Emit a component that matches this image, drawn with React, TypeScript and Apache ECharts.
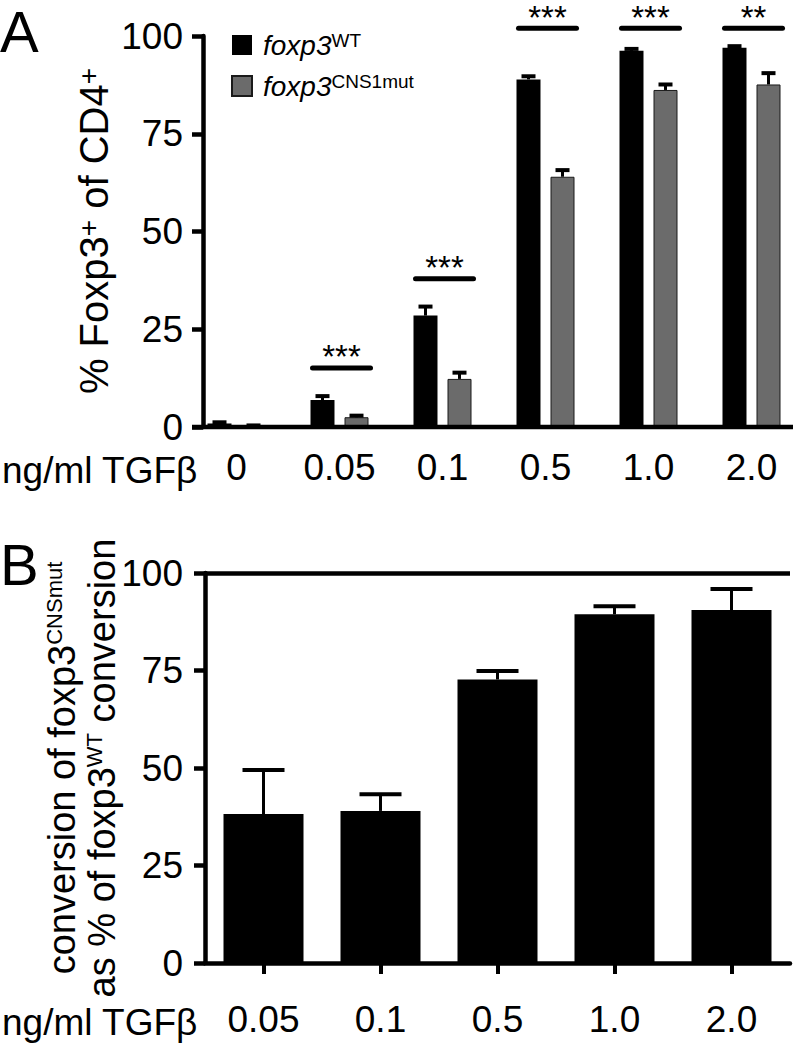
import React, { useEffect, useRef } from "react";
import * as echarts from "echarts";

const FONT = '"Liberation Sans", Arial, Helvetica, sans-serif';

// ---- Panel A data ----
const catsA = ["0", "0.05", "0.1", "0.5", "1.0", "2.0"];
const wtMean = [0.9, 6.9, 28.5, 88.9, 96.2, 97.0];
const wtErr = [0.3, 1.0, 2.3, 0.8, 0.5, 0.4];
const mutMean = [0.3, 2.5, 12.3, 64.0, 86.2, 87.6];
const mutErr = [0.1, 0.4, 1.6, 1.7, 1.4, 2.9];
const sigCats = ["0.05", "0.1", "0.5", "1.0", "2.0"];
const sigHeights = [15.1, 37.9, 102, 102, 102];
const sigStars = ["***", "***", "***", "***", "**"];

// ---- Panel B data ----
const catsB = ["0.05", "0.1", "0.5", "1.0", "2.0"];
const ratioMean = [38.2, 39.0, 72.7, 89.4, 90.5];
const ratioErr = [11.3, 4.3, 2.2, 2.1, 5.4];

// shared y axis ticks
const Y_MIN = 0;
const Y_MAX = 100;
const Y_STEP = 25;

const AXIS_W = 4.5;
const BAR_A = 24;
const GAP_A = 10;
const BAR_B = 80;

function errorRender(offset: number, capHalf: number) {
  return (params: any, api: any) => {
    const c = api.value(0);
    const v = api.value(1);
    const e = api.value(2);
    const base = api.coord([c, v]);
    const top = api.coord([c, v + e]);
    const x = base[0] + offset;
    return {
      type: "group",
      children: [
        {
          type: "line",
          shape: { x1: x, y1: base[1], x2: x, y2: top[1] },
          style: { stroke: "#000", lineWidth: 3 },
        },
        {
          type: "line",
          shape: { x1: x - capHalf, y1: top[1], x2: x + capHalf, y2: top[1] },
          style: { stroke: "#000", lineWidth: 4 },
        },
      ],
    };
  };
}

export default function App() {
  const ref = useRef<HTMLDivElement>(null);

  useEffect(() => {
    if (!ref.current) return;
    const chart = echarts.init(ref.current, null, { renderer: "svg" });

    const yAxisCommon = {
      type: "value",
      min: Y_MIN,
      max: Y_MAX,
      interval: Y_STEP,
      axisLine: { show: true, lineStyle: { color: "#000", width: AXIS_W } },
      axisTick: { show: true, length: 11, lineStyle: { color: "#000", width: AXIS_W } },
      axisLabel: { color: "#000", fontSize: 37, fontFamily: FONT, margin: 20 },
      splitLine: { show: false },
    };

    const off = (BAR_A + GAP_A) / 2;

    const option: any = {
      animation: false,
      backgroundColor: "#fff",
      grid: [
        { left: 185, top: 36, width: 618, height: 391, containLabel: false, outerBoundsMode: "none" },
        { left: 205, top: 573, width: 585, height: 390, containLabel: false, outerBoundsMode: "none" },
      ],
      xAxis: [
        {
          type: "category",
          gridIndex: 0,
          data: catsA,
          axisLine: { show: false },
          axisTick: { show: false },
          axisLabel: { color: "#000", fontSize: 37, fontFamily: FONT, margin: 22 },
        },
        {
          type: "category",
          gridIndex: 1,
          data: catsB,
          axisLine: { show: true, lineStyle: { color: "#000", width: AXIS_W } },
          axisTick: { show: true, alignWithLabel: true, length: 11, lineStyle: { color: "#000", width: 4 } },
          axisLabel: { color: "#000", fontSize: 37, fontFamily: FONT, margin: 38 },
        },
      ],
      yAxis: [
        { ...yAxisCommon, gridIndex: 0, offset: -18, axisLabel: { ...yAxisCommon.axisLabel, margin: 20 } },
        { ...yAxisCommon, gridIndex: 1, axisLabel: { ...yAxisCommon.axisLabel, margin: 22 } },
      ],
      legend: {
        show: true,
        orient: "vertical",
        left: 226,
        top: 26,
        icon: "rect",
        itemWidth: 20,
        itemHeight: 20,
        itemGap: 13,
        selectedMode: false,
        data: ["foxp3 WT", "foxp3 CNS1mut"],
        formatter: (name: string) =>
          name === "foxp3 WT" ? "{it|foxp3}{sup|WT}" : "{it|foxp3}{sup|CNS1mut}",
        textStyle: {
          color: "#000",
          fontFamily: FONT,
          rich: {
            it: { fontSize: 28, fontStyle: "italic", fontFamily: FONT, color: "#000", padding: [0, 0, 0, 6] },
            sup: { fontSize: 19, fontFamily: FONT, color: "#000", verticalAlign: "top" },
          },
        },
      },
      series: [
        {
          name: "foxp3 WT",
          type: "bar",
          xAxisIndex: 0,
          yAxisIndex: 0,
          data: wtMean,
          barWidth: BAR_A,
          barGap: ((GAP_A / BAR_A) * 100).toFixed(1) + "%",
          itemStyle: { color: "#000" },
          z: 2,
        },
        {
          name: "foxp3 CNS1mut",
          type: "bar",
          xAxisIndex: 0,
          yAxisIndex: 0,
          data: mutMean,
          barWidth: BAR_A,
          barGap: ((GAP_A / BAR_A) * 100).toFixed(1) + "%",
          itemStyle: { color: "#6b6b6b", borderColor: "#1a1a1a", borderWidth: 1 },
          z: 2,
        },
        {
          name: "wtErr",
          type: "custom",
          xAxisIndex: 0,
          yAxisIndex: 0,
          z: 3,
          silent: true,
          data: catsA.map((_, i) => [i, wtMean[i], wtErr[i]]),
          encode: { x: 0, y: 1 },
          renderItem: errorRender(-off, 7),
        },
        {
          name: "mutErr",
          type: "custom",
          xAxisIndex: 0,
          yAxisIndex: 0,
          z: 3,
          silent: true,
          data: catsA.map((_, i) => [i, mutMean[i], mutErr[i]]),
          encode: { x: 0, y: 1 },
          renderItem: errorRender(off, 7),
        },
        {
          name: "significance",
          type: "custom",
          xAxisIndex: 0,
          yAxisIndex: 0,
          z: 3,
          silent: true,
          clip: false,
          data: sigCats.map((c, i) => [catsA.indexOf(c), sigHeights[i]]),
          encode: { x: 0, y: 1 },
          renderItem: (params: any, api: any) => {
            const p = api.coord([api.value(0), api.value(1)]);
            const half = (BAR_A * 2 + GAP_A) / 2;
            return {
              type: "group",
              children: [
                {
                  type: "line",
                  shape: { x1: p[0] - half + 2, y1: p[1], x2: p[0] + half + 2, y2: p[1] },
                  style: { stroke: "#000", lineWidth: 5, lineCap: "round" },
                },
                {
                  type: "text",
                  x: p[0] + 2,
                  y: p[1] - 11,
                  style: {
                    text: sigStars[params.dataIndex],
                    fill: "#000",
                    font: `33px ${FONT}`,
                    textAlign: "center",
                    textVerticalAlign: "middle",
                  },
                },
              ],
            };
          },
        },
        {
          name: "ratio",
          type: "bar",
          xAxisIndex: 1,
          yAxisIndex: 1,
          data: ratioMean,
          barWidth: BAR_B,
          itemStyle: { color: "#000" },
          z: 2,
          markLine: {
            silent: true,
            symbol: ["none", "none"],
            label: { show: false },
            lineStyle: { color: "#000", width: AXIS_W, type: "solid" },
            data: [{ yAxis: Y_MAX }],
          },
        },
        {
          name: "ratioErr",
          type: "custom",
          xAxisIndex: 1,
          yAxisIndex: 1,
          z: 3,
          silent: true,
          data: catsB.map((_, i) => [i, ratioMean[i], ratioErr[i]]),
          encode: { x: 0, y: 1 },
          renderItem: errorRender(0, 21),
        },
      ],
      graphic: [
        // panel A x baseline
        {
          type: "line",
          shape: { x1: 192, y1: 427, x2: 793, y2: 427 },
          style: { stroke: "#000", lineWidth: AXIS_W },
          z: 10,
        },
        {
          type: "text",
          left: 0,
          top: 2,
          style: { text: "A", font: `58px ${FONT}`, fill: "#000" },
        },
        {
          type: "text",
          left: 0,
          top: 535,
          style: { text: "B", font: `58px ${FONT}`, fill: "#000" },
        },
        {
          type: "text",
          x: 2,
          y: 470,
          style: {
            text: "ng/ml TGFβ",
            font: `37px ${FONT}`,
            fill: "#000",
            textAlign: "left",
            textVerticalAlign: "middle",
          },
        },
        {
          type: "text",
          x: 2,
          y: 1022,
          style: {
            text: "ng/ml TGFβ",
            font: `37px ${FONT}`,
            fill: "#000",
            textAlign: "left",
            textVerticalAlign: "middle",
          },
        },
        {
          type: "text",
          x: 94,
          y: 231,
          rotation: Math.PI / 2,
          style: {
            text: "{m|% Foxp3}{s|+}{m| of CD4}{s|+}",
            fill: "#000",
            textAlign: "center",
            textVerticalAlign: "middle",
            rich: {
              m: { fontSize: 40, fontFamily: FONT, fill: "#000" },
              s: { fontSize: 28, fontFamily: FONT, fill: "#000", verticalAlign: "top" },
            },
          },
        },
        {
          type: "text",
          x: 62,
          y: 768,
          rotation: Math.PI / 2,
          style: {
            text: "{m|conversion of foxp3}{s|CNSmut}",
            fill: "#000",
            textAlign: "center",
            textVerticalAlign: "middle",
            rich: {
              m: { fontSize: 38, fontFamily: FONT, fill: "#000" },
              s: { fontSize: 22, fontFamily: FONT, fill: "#000", verticalAlign: "top" },
            },
          },
        },
        {
          type: "text",
          x: 102,
          y: 768,
          rotation: Math.PI / 2,
          style: {
            text: "{m|as % of foxp3}{s|WT}{m| conversion}",
            fill: "#000",
            textAlign: "center",
            textVerticalAlign: "middle",
            rich: {
              m: { fontSize: 38, fontFamily: FONT, fill: "#000" },
              s: { fontSize: 22, fontFamily: FONT, fill: "#000", verticalAlign: "top" },
            },
          },
        },
      ],
    };

    chart.setOption(option);
    return () => chart.dispose();
  }, []);

  return (
    <div
      ref={ref}
      style={{ position: "absolute", left: 0, top: 0, width: 795, height: 1043, background: "#fff" }}
    />
  );
}
